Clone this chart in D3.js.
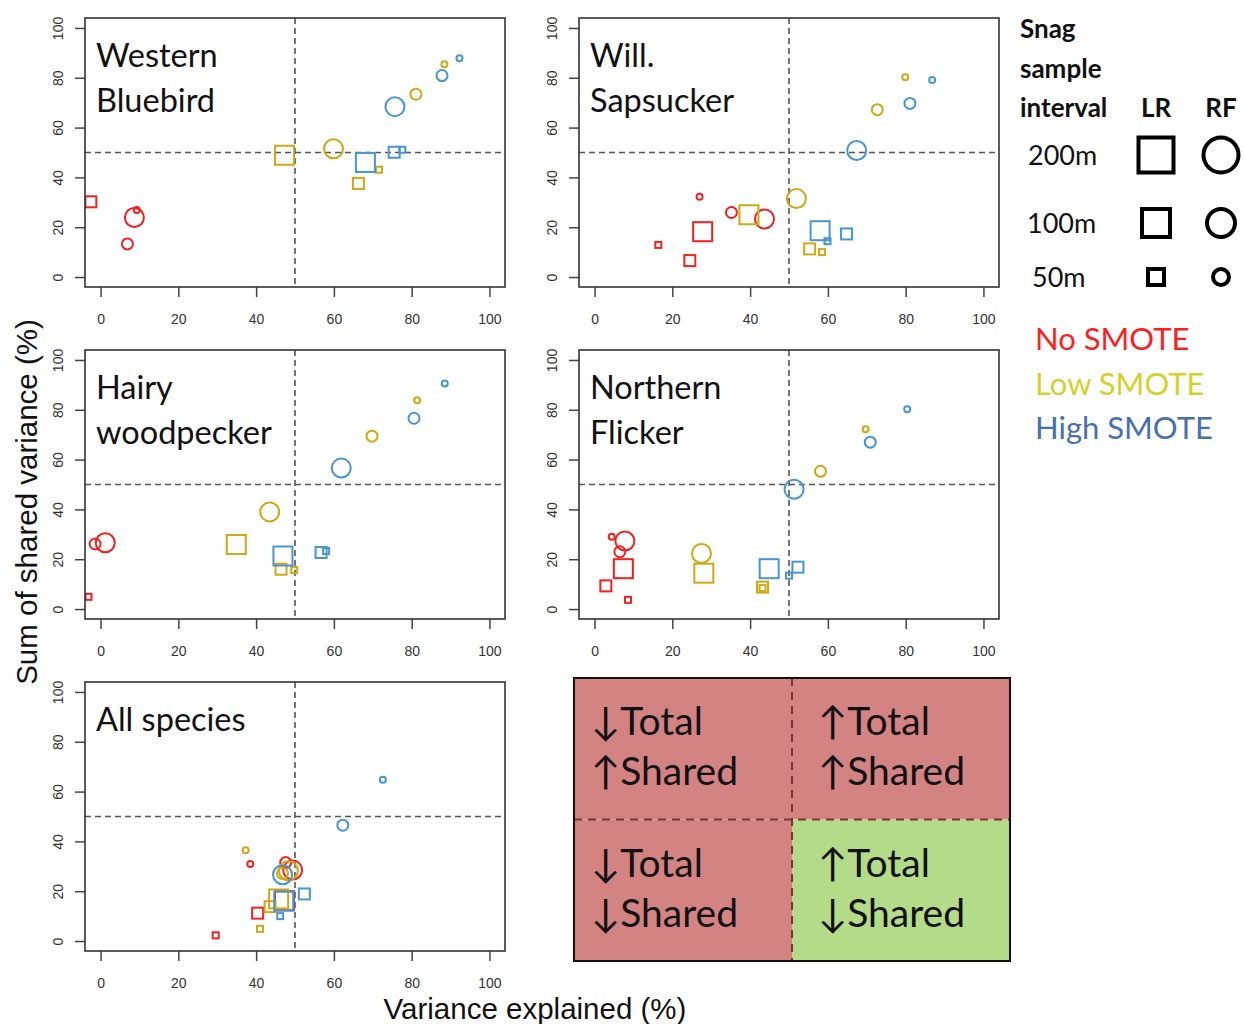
<!DOCTYPE html>
<html>
<head>
<meta charset="utf-8">
<script src="https://cdn.jsdelivr.net/npm/d3@7"></script>
<style>
  body { margin: 0; background: #fff; }
  svg { display: block; }
</style>
</head>
<body>
<svg id="chart" width="1244" height="1024"></svg>
<script>
// ---------------- DATA ----------------
const axisTicks = [0, 20, 40, 60, 80, 100];
const smoteLevels = ["No SMOTE", "Low SMOTE", "High SMOTE"];
const intervals = ["200m", "100m", "50m"];
const models = ["LR", "RF"];

// [x variance explained, y sum shared variance, smote, model, interval]
const westernBluebird = [
  [-2.5, 30.2, "No SMOTE", "LR", "100m"],
  [8.7, 23.9, "No SMOTE", "RF", "200m"],
  [6.9, 13.3, "No SMOTE", "RF", "100m"],
  [9.3, 26.9, "No SMOTE", "RF", "50m"],
  [47.3, 48.9, "Low SMOTE", "LR", "200m"],
  [66.3, 37.6, "Low SMOTE", "LR", "100m"],
  [71.6, 43.1, "Low SMOTE", "LR", "50m"],
  [59.9, 51.5, "Low SMOTE", "RF", "200m"],
  [81.1, 73.4, "Low SMOTE", "RF", "100m"],
  [88.4, 85.4, "Low SMOTE", "RF", "50m"],
  [68.1, 46.0, "High SMOTE", "LR", "200m"],
  [75.5, 50.1, "High SMOTE", "LR", "100m"],
  [77.6, 51.1, "High SMOTE", "LR", "50m"],
  [75.7, 68.4, "High SMOTE", "RF", "200m"],
  [87.8, 80.9, "High SMOTE", "RF", "100m"],
  [92.3, 87.8, "High SMOTE", "RF", "50m"]
];
const willSapsucker = [
  [27.8, 18.2, "No SMOTE", "LR", "200m"],
  [24.5, 6.6, "No SMOTE", "LR", "100m"],
  [16.4, 12.9, "No SMOTE", "LR", "50m"],
  [43.7, 23.3, "No SMOTE", "RF", "200m"],
  [35.2, 25.9, "No SMOTE", "RF", "100m"],
  [27.0, 32.2, "No SMOTE", "RF", "50m"],
  [39.7, 25.0, "Low SMOTE", "LR", "200m"],
  [55.3, 11.3, "Low SMOTE", "LR", "100m"],
  [58.5, 10.0, "Low SMOTE", "LR", "50m"],
  [51.9, 31.5, "Low SMOTE", "RF", "200m"],
  [72.7, 67.2, "Low SMOTE", "RF", "100m"],
  [79.9, 80.2, "Low SMOTE", "RF", "50m"],
  [58.0, 18.6, "High SMOTE", "LR", "200m"],
  [64.8, 17.3, "High SMOTE", "LR", "100m"],
  [59.9, 14.4, "High SMOTE", "LR", "50m"],
  [67.4, 50.8, "High SMOTE", "RF", "200m"],
  [81.1, 69.7, "High SMOTE", "RF", "100m"],
  [86.8, 79.1, "High SMOTE", "RF", "50m"]
];
const hairyWoodpecker = [
  [-3.1, 4.9, "No SMOTE", "LR", "50m"],
  [1.2, 26.6, "No SMOTE", "RF", "200m"],
  [-1.4, 26.1, "No SMOTE", "RF", "100m"],
  [34.9, 25.9, "Low SMOTE", "LR", "200m"],
  [46.4, 16.0, "Low SMOTE", "LR", "100m"],
  [49.8, 15.7, "Low SMOTE", "LR", "50m"],
  [43.5, 39.0, "Low SMOTE", "RF", "200m"],
  [69.8, 69.4, "Low SMOTE", "RF", "100m"],
  [81.4, 83.8, "Low SMOTE", "RF", "50m"],
  [46.9, 21.3, "High SMOTE", "LR", "200m"],
  [56.7, 22.7, "High SMOTE", "LR", "100m"],
  [58.0, 23.3, "High SMOTE", "LR", "50m"],
  [61.9, 56.6, "High SMOTE", "RF", "200m"],
  [80.6, 76.6, "High SMOTE", "RF", "100m"],
  [88.5, 90.6, "High SMOTE", "RF", "50m"]
];
const northernFlicker = [
  [7.4, 16.2, "No SMOTE", "LR", "200m"],
  [2.9, 9.3, "No SMOTE", "LR", "100m"],
  [8.6, 3.7, "No SMOTE", "LR", "50m"],
  [7.8, 27.3, "No SMOTE", "RF", "200m"],
  [6.5, 23.0, "No SMOTE", "RF", "100m"],
  [4.4, 29.0, "No SMOTE", "RF", "50m"],
  [28.1, 14.4, "Low SMOTE", "LR", "200m"],
  [43.2, 8.8, "Low SMOTE", "LR", "100m"],
  [43.2, 8.4, "Low SMOTE", "LR", "50m"],
  [27.5, 22.3, "Low SMOTE", "RF", "200m"],
  [58.1, 55.3, "Low SMOTE", "RF", "100m"],
  [69.7, 72.2, "Low SMOTE", "RF", "50m"],
  [44.9, 16.2, "High SMOTE", "LR", "200m"],
  [52.3, 16.8, "High SMOTE", "LR", "100m"],
  [50.0, 13.4, "High SMOTE", "LR", "50m"],
  [51.3, 48.1, "High SMOTE", "RF", "200m"],
  [70.9, 67.0, "High SMOTE", "RF", "100m"],
  [80.4, 80.2, "High SMOTE", "RF", "50m"]
];
const allSpecies = [
  [47.3, 16.2, "No SMOTE", "LR", "200m"],
  [40.4, 11.2, "No SMOTE", "LR", "100m"],
  [29.6, 2.3, "No SMOTE", "LR", "50m"],
  [49.4, 28.5, "No SMOTE", "RF", "200m"],
  [47.6, 31.5, "No SMOTE", "RF", "100m"],
  [38.5, 30.9, "No SMOTE", "RF", "50m"],
  [45.8, 16.9, "Low SMOTE", "LR", "200m"],
  [43.6, 13.8, "Low SMOTE", "LR", "100m"],
  [41.0, 4.9, "Low SMOTE", "LR", "50m"],
  [48.3, 28.2, "Low SMOTE", "RF", "200m"],
  [46.8, 27.1, "Low SMOTE", "RF", "100m"],
  [37.3, 36.4, "Low SMOTE", "RF", "50m"],
  [47.1, 16.0, "High SMOTE", "LR", "200m"],
  [52.4, 18.9, "High SMOTE", "LR", "100m"],
  [46.2, 10.0, "High SMOTE", "LR", "50m"],
  [46.8, 26.6, "High SMOTE", "RF", "200m"],
  [62.3, 46.5, "High SMOTE", "RF", "100m"],
  [72.6, 64.8, "High SMOTE", "RF", "50m"]
];
const panelTitles = [["Western", "Bluebird"], ["Will.", "Sapsucker"], ["Hairy", "woodpecker"], ["Northern", "Flicker"], ["All species"]];
const panelData = [westernBluebird, willSapsucker, hairyWoodpecker, northernFlicker, allSpecies];
const quadrantLabels = [["↓Total", "↑Shared"], ["↑Total", "↑Shared"], ["↓Total", "↓Shared"], ["↑Total", "↓Shared"]];

// ---------------- STYLE / LAYOUT ----------------
const svg = d3.select("#chart");
const markColor = d3.scaleOrdinal().domain(smoteLevels).range(["#f51f1f", "#cfa812", "#4596d2"]);
const legendColor = d3.scaleOrdinal().domain(smoteLevels).range(["#ff1e1e", "#d4d22a", "#4670ae"]);
const markSize = d3.scaleOrdinal().domain(intervals).range([19, 11, 6]);
const legendSize = d3.scaleOrdinal().domain(intervals).range([35, 28, 16]);
const titleFont = "Lato, 'Open Sans', sans-serif";
const axisFont = "'Liberation Sans', Arial, sans-serif";

const panelW = 420, panelH = 269;
const panelPos = [[85, 18], [579, 18], [85, 350], [579, 350], [85, 682]];

panelData.forEach((data, i) => {
  const [px, py] = panelPos[i];
  const g = svg.append("g").attr("transform", `translate(${px},${py})`);
  const x = d3.scaleLinear().domain([-4, 104]).range([0, panelW]);
  const y = d3.scaleLinear().domain([-4, 104]).range([panelH, 0]);

  const clipId = "clip" + i;
  g.append("clipPath").attr("id", clipId).append("rect").attr("width", panelW).attr("height", panelH);

  // reference lines
  g.append("line").attr("x1", x(50)).attr("x2", x(50)).attr("y1", 0).attr("y2", panelH)
    .attr("stroke", "#555").attr("stroke-width", 1.6).attr("stroke-dasharray", "6,4");
  g.append("line").attr("x1", 0).attr("x2", panelW).attr("y1", y(50)).attr("y2", y(50))
    .attr("stroke", "#555").attr("stroke-width", 1.6).attr("stroke-dasharray", "6,4");

  // axes
  const xa = g.append("g").attr("transform", `translate(0,${panelH})`)
    .call(d3.axisBottom(x).tickValues(axisTicks).tickSize(10).tickPadding(17));
  const ya = g.append("g")
    .call(d3.axisLeft(y).tickValues(axisTicks).tickSize(10));
  [xa, ya].forEach(a => {
    a.select(".domain").remove();
    a.selectAll("line").attr("stroke", "#444").attr("stroke-width", 1.5);
    a.selectAll("text").attr("font-family", axisFont).attr("font-size", 14).attr("fill", "#333");
  });
  ya.selectAll("text")
    .attr("x", null).attr("dy", null)
    .attr("text-anchor", "middle")
    .attr("dominant-baseline", "central")
    .attr("transform", "translate(-27,0) rotate(-90)");

  // points
  const pts = g.append("g").attr("clip-path", `url(#${clipId})`);
  data.forEach(d => {
    const [vx, vy, s, m, iv] = d;
    const sz = markSize(iv);
    if (m === "LR") {
      pts.append("rect")
        .attr("x", x(vx) - sz / 2).attr("y", y(vy) - sz / 2)
        .attr("width", sz).attr("height", sz)
        .attr("fill", "none").attr("stroke", markColor(s)).attr("stroke-width", 2);
    } else {
      pts.append("circle")
        .attr("cx", x(vx)).attr("cy", y(vy)).attr("r", sz / 2)
        .attr("fill", "none").attr("stroke", markColor(s)).attr("stroke-width", 2);
    }
  });

  // box
  g.append("rect").attr("width", panelW).attr("height", panelH)
    .attr("fill", "none").attr("stroke", "#333").attr("stroke-width", 1.6);

  // title
  const t = g.append("text").attr("font-family", titleFont).attr("font-size", 32.5).attr("fill", "#111");
  panelTitles[i].forEach((line, k) => {
    t.append("tspan").attr("x", 11).attr("y", 49 + k * 45).text(line);
  });
});

// axis titles
svg.append("text").attr("x", 535).attr("y", 1019).attr("text-anchor", "middle")
  .attr("font-family", axisFont).attr("font-size", 29.5).attr("fill", "#111")
  .text("Variance explained (%)");
svg.append("text").attr("transform", "translate(37,502) rotate(-90)").attr("text-anchor", "middle")
  .attr("font-family", axisFont).attr("font-size", 29.5).attr("fill", "#111")
  .text("Sum of shared variance (%)");

// ---------------- LEGEND ----------------
const lg = svg.append("g").attr("font-family", titleFont);
[["Snag", 38], ["sample", 78], ["interval", 117]].forEach(([txt, yy]) => {
  lg.append("text").attr("x", 1020).attr("y", yy).attr("font-size", 26).attr("font-weight", "bold").attr("fill", "#111").text(txt);
});
const modelX = d3.scaleOrdinal().domain(models).range([1156, 1221]);
models.forEach(m => {
  lg.append("text").attr("x", modelX(m)).attr("y", 117).attr("text-anchor", "middle")
    .attr("font-size", 26).attr("font-weight", "bold").attr("fill", "#111").text(m);
});
const intervalY = d3.scaleOrdinal().domain(intervals).range([155, 223, 277]);
const intervalX = d3.scaleOrdinal().domain(intervals).range([1028, 1027, 1032]);
intervals.forEach(iv => {
  const cy = intervalY(iv);
  lg.append("text").attr("x", intervalX(iv)).attr("y", cy + 10).attr("font-size", 27).attr("fill", "#111").text(iv);
  const s = legendSize(iv);
  lg.append("rect").attr("x", modelX("LR") - s / 2).attr("y", cy - s / 2).attr("width", s).attr("height", s)
    .attr("fill", "none").attr("stroke", "#000").attr("stroke-width", 4);
  lg.append("circle").attr("cx", modelX("RF")).attr("cy", cy).attr("r", s / 2)
    .attr("fill", "none").attr("stroke", "#000").attr("stroke-width", 4);
});
const smoteY = d3.scaleOrdinal().domain(smoteLevels).range([350, 395, 439]);
smoteLevels.forEach(s => {
  lg.append("text").attr("x", 1035).attr("y", smoteY(s)).attr("font-size", 31).attr("fill", legendColor(s)).text(s);
});

// ---------------- QUADRANT BOX ----------------
const qx = 574, qy = 678, qw = 436, qh = 283;
const qg = svg.append("g").attr("transform", `translate(${qx},${qy})`);
const qCols = d3.scaleBand().domain([0, 1]).range([0, qw]);
const qRows = d3.scaleBand().domain([0, 1]).range([0, qh]);
const qFill = ["#d48383", "#d48383", "#d48383", "#b4dc88"];
quadrantLabels.forEach((lab, k) => {
  const c = k % 2, r = Math.floor(k / 2);
  qg.append("rect").attr("x", qCols(c)).attr("y", qRows(r))
    .attr("width", qCols.bandwidth()).attr("height", qRows.bandwidth()).attr("fill", qFill[k]);
  const t = qg.append("text").attr("font-family", titleFont).attr("font-size", 39).attr("fill", "#111");
  lab.forEach((line, j) => {
    t.append("tspan").attr("x", qCols(c) + (c ? 26 : 17)).attr("y", qRows(r) + 57 + j * 50).text(line);
  });
});
qg.append("line").attr("x1", qw / 2).attr("x2", qw / 2).attr("y1", 0).attr("y2", qh)
  .attr("stroke", "#7a3434").attr("stroke-width", 2).attr("stroke-dasharray", "8,6");
qg.append("line").attr("x1", 0).attr("x2", qw).attr("y1", qh / 2).attr("y2", qh / 2)
  .attr("stroke", "#7a3434").attr("stroke-width", 2).attr("stroke-dasharray", "8,6");
qg.append("rect").attr("width", qw).attr("height", qh).attr("fill", "none").attr("stroke", "#111").attr("stroke-width", 2);
</script>
</body>
</html>
